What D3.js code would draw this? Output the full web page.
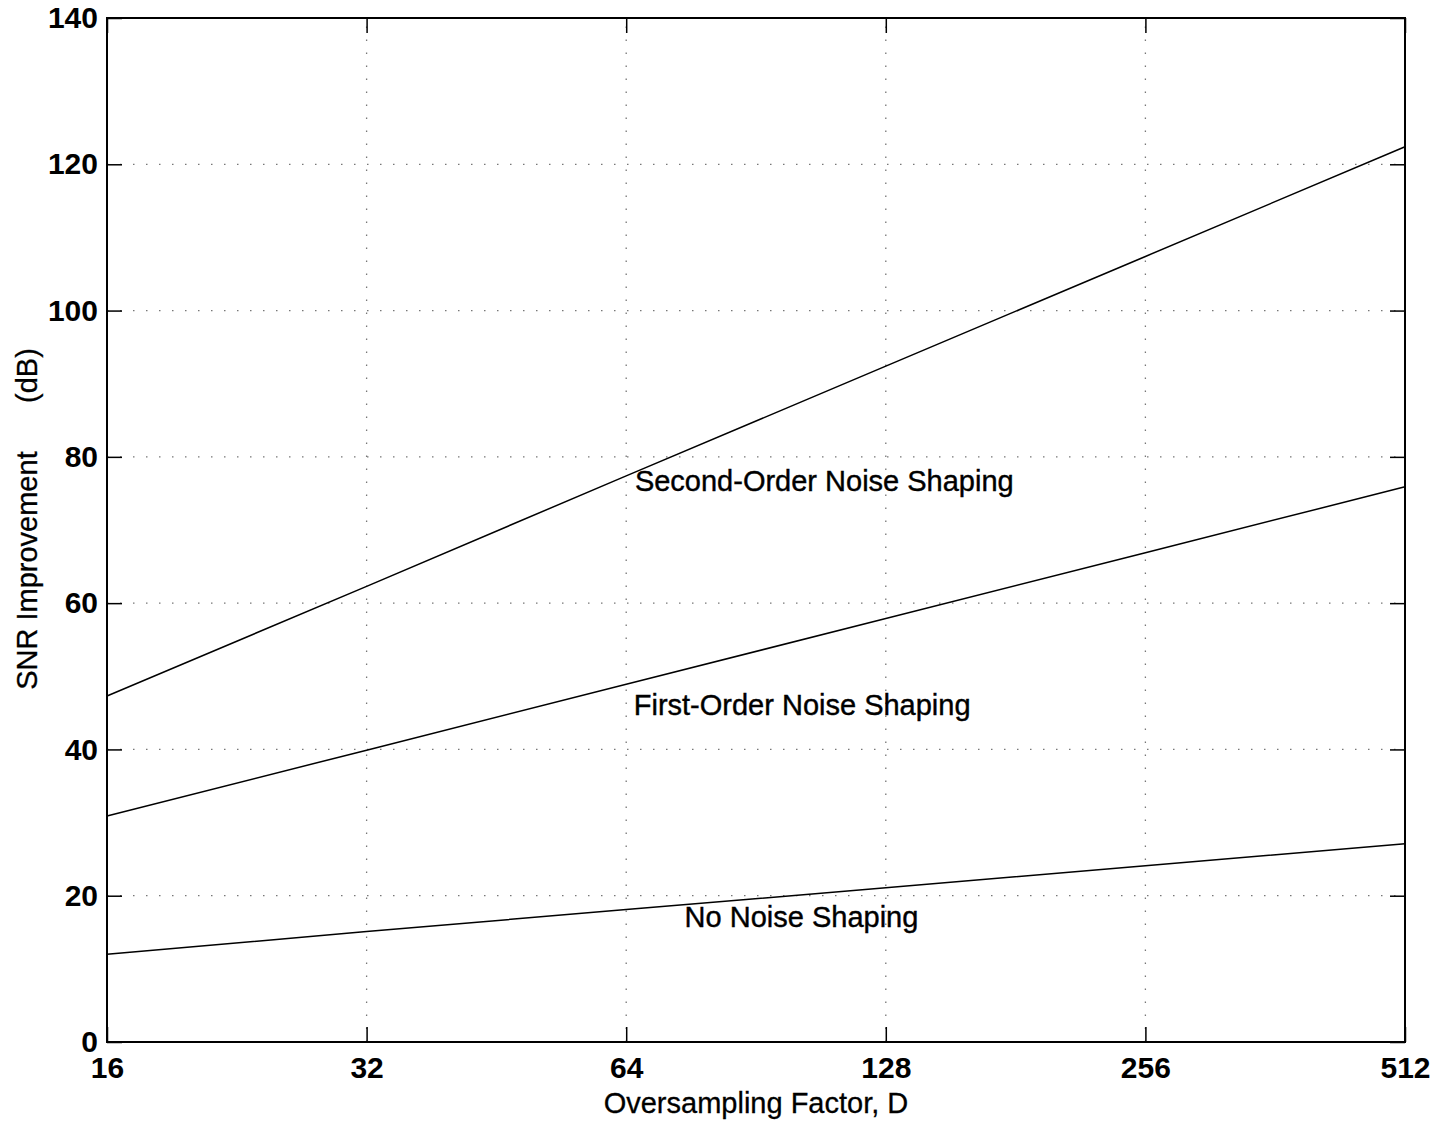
<!DOCTYPE html>
<html>
<head>
<meta charset="utf-8">
<script src="https://cdn.jsdelivr.net/npm/d3@7"></script>
<style>
  body { margin: 0; background: #fff; }
  text { font-family: "Liberation Sans", Arial, sans-serif; fill: #000; }
</style>
</head>
<body>
<div id="chart"></div>
<script>
// oversampling factors (x axis, log2)
const factors = [16, 32, 64, 128, 256, 512];
// SNR improvement in dB
const noShaping = [12.0, 15.1, 18.1, 21.1, 24.1, 27.1];
const firstOrder = [30.9, 39.9, 48.9, 57.9, 66.9, 75.9];
const secondOrder = [47.3, 62.3, 77.4, 92.4, 107.4, 122.4];
const yTicks = [0, 20, 40, 60, 80, 100, 120, 140];

const labels = [
  {text: "Second-Order Noise Shaping", d: 65.5, v: 75.3},
  {text: "First-Order Noise Shaping", d: 65.3, v: 44.7},
  {text: "No Noise Shaping", d: 74.8, v: 15.7}
];

const width = 1435, height = 1122;
const margin = {top: 18, right: 30, bottom: 80, left: 107};

const x = d3.scaleLog().base(2)
    .domain([16, 512])
    .range([margin.left, width - margin.right]);
const y = d3.scaleLinear()
    .domain([0, 140])
    .range([height - margin.bottom, margin.top]);

const svg = d3.select("#chart").append("svg")
    .attr("width", width)
    .attr("height", height);

svg.append("rect").attr("width", width).attr("height", height).attr("fill", "#fff");

const x0 = x.range()[0], x1 = x.range()[1];
const y0 = y.range()[0], y1 = y.range()[1];

// dotted grid
const grid = svg.append("g")
    .attr("stroke", "#777")
    .attr("stroke-width", 1.3)
    .attr("stroke-dasharray", "1.5,11.5");
grid.selectAll("line.gx")
    .data(factors.slice(1, -1))
    .join("line")
    .attr("x1", d => x(d)).attr("x2", d => x(d))
    .attr("y1", y0).attr("y2", y1);
grid.selectAll("line.gy")
    .data(yTicks.slice(1, -1))
    .join("line")
    .attr("x1", x0).attr("x2", x1)
    .attr("y1", d => y(d)).attr("y2", d => y(d));

// axes with inward ticks on all four sides
const tickLen = 15;
const fmt = d3.format("d");
const tickFont = g => g.selectAll("text")
    .attr("font-size", 30)
    .attr("font-weight", "bold");

svg.append("g")
    .attr("transform", `translate(0,${y0})`)
    .call(d3.axisBottom(x).tickValues(factors).tickFormat(fmt).tickSizeInner(-tickLen).tickSizeOuter(0).tickPadding(15))
    .call(tickFont);
svg.append("g")
    .attr("transform", `translate(0,${y1})`)
    .call(d3.axisTop(x).tickValues(factors).tickFormat("").tickSizeInner(-tickLen).tickSizeOuter(0));
svg.append("g")
    .attr("transform", `translate(${x0},0)`)
    .call(d3.axisLeft(y).tickValues(yTicks).tickSizeInner(-tickLen).tickSizeOuter(0).tickPadding(9))
    .call(tickFont);
svg.append("g")
    .attr("transform", `translate(${x1},0)`)
    .call(d3.axisRight(y).tickValues(yTicks).tickFormat("").tickSizeInner(-tickLen).tickSizeOuter(0));

svg.selectAll(".domain").remove();
svg.selectAll(".tick line").attr("stroke", "#000").attr("stroke-width", 1.5);

// box
svg.append("rect")
    .attr("x", x0).attr("y", y1)
    .attr("width", x1 - x0).attr("height", y0 - y1)
    .attr("fill", "none")
    .attr("stroke", "#000")
    .attr("stroke-width", 2);

// curves
const line = d3.line()
    .x((d, i) => x(factors[i]))
    .y(d => y(d));
svg.append("g")
    .attr("fill", "none")
    .attr("stroke", "#000")
    .attr("stroke-width", 1.5)
    .selectAll("path")
    .data([noShaping, firstOrder, secondOrder])
    .join("path")
    .attr("d", line);

// annotations
svg.append("g")
    .attr("stroke", "#000")
    .attr("stroke-width", 0.4)
    .selectAll("text")
    .data(labels)
    .join("text")
    .attr("x", d => x(d.d))
    .attr("y", d => y(d.v))
    .attr("font-size", 29)
    .text(d => d.text);

// axis titles
svg.append("text")
    .attr("x", (x0 + x1) / 2)
    .attr("y", 1113)
    .attr("text-anchor", "middle")
    .attr("font-size", 29)
    .attr("stroke", "#000")
    .attr("stroke-width", 0.3)
    .text("Oversampling Factor, D");

svg.append("text")
    .attr("transform", `translate(37,${(y0 + y1) / 2 - 11}) rotate(-90)`)
    .attr("text-anchor", "middle")
    .attr("font-size", 29)
    .attr("stroke", "#000")
    .attr("stroke-width", 0.3)
    .style("white-space", "pre")
    .text("SNR Improvement      (dB)");
</script>
</body>
</html>
